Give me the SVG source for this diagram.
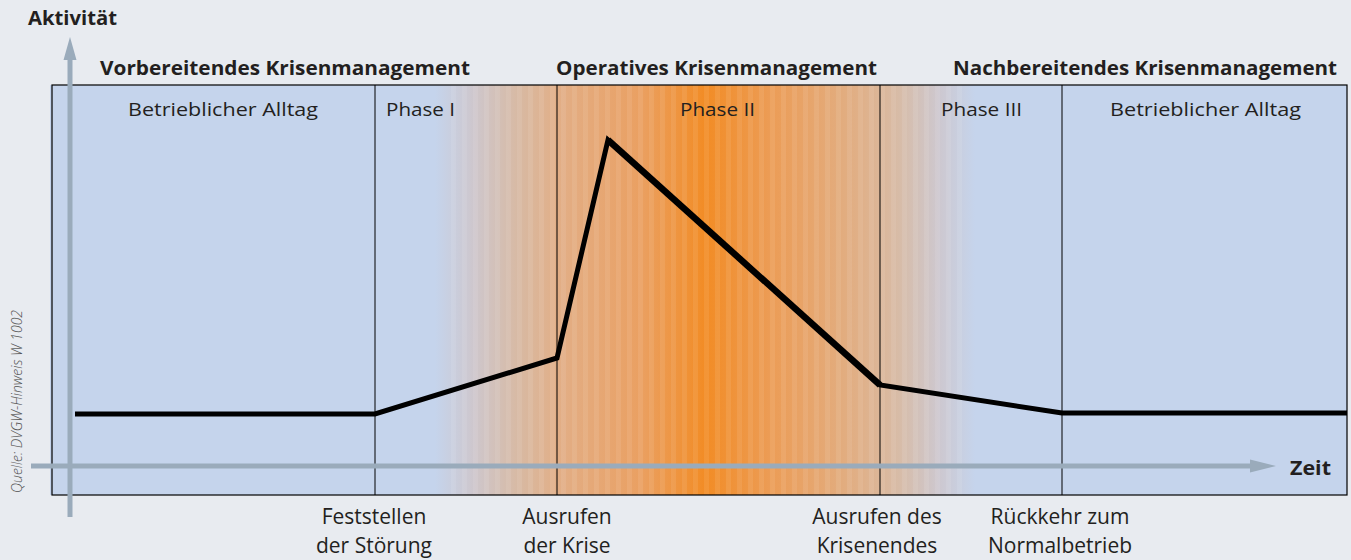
<svg xmlns="http://www.w3.org/2000/svg" width="1351" height="560" viewBox="0 0 1351 560">
<style>
.t{font-family:"Open Sans","Noto Sans","Liberation Sans",sans-serif;fill:#231f20}
.b{font-weight:bold;font-size:19px}
.n{font-size:19px}
.m{font-size:21px}
.c{text-anchor:middle}
.div{stroke:#000;stroke-width:1}
.axis{stroke:#9aabbb;stroke-width:5;fill:none}
</style>
<defs>
<linearGradient id="crisis" gradientUnits="userSpaceOnUse" x1="435" y1="0" x2="975" y2="0">
<stop offset="0" stop-color="#c5d4ec"/>
<stop offset="0.065" stop-color="#cdc8d0"/>
<stop offset="0.157" stop-color="#d8b9a2"/>
<stop offset="0.231" stop-color="#e2ae86"/>
<stop offset="0.38" stop-color="#eaa062"/>
<stop offset="0.5" stop-color="#f28c25"/>
<stop offset="0.62" stop-color="#ec9c55"/>
<stop offset="0.787" stop-color="#e0b088"/>
<stop offset="0.861" stop-color="#d7bca8"/>
<stop offset="0.935" stop-color="#cdc8d0"/>
<stop offset="1" stop-color="#c5d4ec"/>
</linearGradient>
<pattern id="stripes" patternUnits="userSpaceOnUse" x="0" y="0" width="11" height="10">
<rect x="0" y="0" width="5" height="10" fill="#ffffff" fill-opacity="0.08"/>
</pattern>
</defs>
<rect width="1351" height="560" fill="#e8ebf0"/>
<g id="frame">
<rect x="50" y="85" width="1297" height="410" fill="#c5d4ec"/>
<rect x="435" y="85" width="540" height="410" fill="url(#crisis)"/>
<rect x="445" y="85" width="520" height="410" fill="url(#stripes)"/>
<rect x="52" y="85" width="1295" height="410" fill="none" stroke="#000" stroke-width="1.2"/>
<line class="div" x1="375" y1="85" x2="375" y2="495"/>
<line class="div" x1="557" y1="85" x2="557" y2="495"/>
<line class="div" x1="880" y1="85" x2="880" y2="495"/>
<line class="div" x1="1062" y1="85" x2="1062" y2="495"/>
</g>
<g id="axes">
<line class="axis" x1="70" y1="517" x2="70" y2="58"/>
<polygon points="70,37 63.5,60 76.5,60" fill="#9aabbb"/>
<line class="axis" x1="31" y1="466" x2="1252" y2="466"/>
<polygon points="1276,466 1250,459.5 1250,472.5" fill="#9aabbb"/>
</g>
<g id="connectors">
<polyline points="75,414 375,414 557,358 608,140 880,385 1062,413 1347,413" fill="none" stroke="#000" stroke-width="5" stroke-linejoin="miter"/>
<line x1="608" y1="140" x2="880" y2="385" stroke="#000" stroke-width="6.5"/>
</g>
<g id="labels">
<text class="t b" x="28" y="25" textLength="89" lengthAdjust="spacingAndGlyphs">Aktivität</text>
<text class="t b" x="100" y="75" textLength="370" lengthAdjust="spacingAndGlyphs">Vorbereitendes Krisenmanagement</text>
<text class="t b" x="556" y="75" textLength="321" lengthAdjust="spacingAndGlyphs">Operatives Krisenmanagement</text>
<text class="t b" x="953" y="75" textLength="384" lengthAdjust="spacingAndGlyphs">Nachbereitendes Krisenmanagement</text>
<text class="t n" x="128" y="116" textLength="190" lengthAdjust="spacingAndGlyphs">Betrieblicher Alltag</text>
<text class="t n" x="386" y="116" textLength="69" lengthAdjust="spacingAndGlyphs">Phase I</text>
<text class="t n" x="680" y="116" textLength="75" lengthAdjust="spacingAndGlyphs">Phase II</text>
<text class="t n" x="941" y="116" textLength="81" lengthAdjust="spacingAndGlyphs">Phase III</text>
<text class="t n" x="1110" y="116" textLength="191" lengthAdjust="spacingAndGlyphs">Betrieblicher Alltag</text>
<text class="t b" x="1290" y="475" textLength="41" lengthAdjust="spacingAndGlyphs">Zeit</text>
<text class="t m c" x="374" y="524">Feststellen</text>
<text class="t m c" x="374" y="553">der Störung</text>
<text class="t m c" x="567" y="524">Ausrufen</text>
<text class="t m c" x="567" y="553">der Krise</text>
<text class="t m c" x="877" y="524">Ausrufen des</text>
<text class="t m c" x="877" y="553">Krisenendes</text>
<text class="t m c" x="1060" y="524">Rückkehr zum</text>
<text class="t m c" x="1060" y="553">Normalbetrieb</text>
<text class="t" x="0" y="0" transform="translate(22,493) rotate(-90)" style="font-size:14px;font-style:italic;font-weight:300;fill:#555" textLength="183" lengthAdjust="spacingAndGlyphs">Quelle: DVGW-Hinweis W 1002</text>
</g>
</svg>
